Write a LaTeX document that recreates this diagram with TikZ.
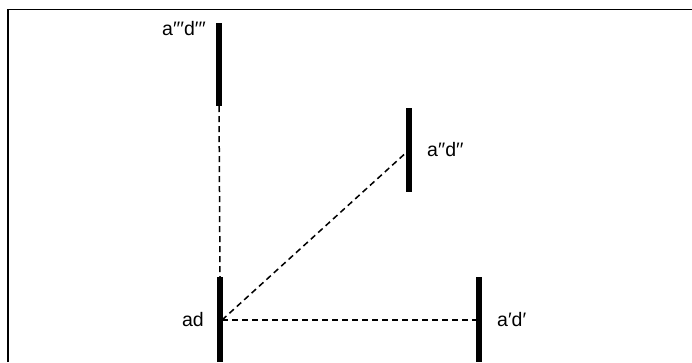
\documentclass[tikz,border=0pt]{standalone}
\usepackage{fontspec}
\setmainfont{Liberation Sans}
\begin{document}
\begin{tikzpicture}[x=1pt,y=-1pt,
  bar/.style={line width=5.5pt},
  link/.style={line width=1.5pt,dash pattern=on 6pt off 4pt},
  lbl/.style={font=\fontsize{19.5}{22}\selectfont,inner sep=0pt},
  frameline/.style={line width=1.6pt}]
\useasboundingbox (0,0) rectangle (692,362);
\draw[frameline] (8,362) -- (8,9.5) -- (692,9.5);
% bars
\coordinate (A3t) at (219,23); \coordinate (A3b) at (219,106);
\coordinate (A2t) at (409,108); \coordinate (A2b) at (409,192);
\coordinate (A0t) at (220,277); \coordinate (A0b) at (220,362);
\coordinate (A1t) at (479,277); \coordinate (A1b) at (479,362);
\draw[bar] (A3t) -- (A3b);
\draw[bar] (A2t) -- (A2b);
\draw[bar] (A0t) -- (A0b);
\draw[bar] (A1t) -- (A1b);
\coordinate (p3) at (219,106);
\coordinate (p2) at (409,150);
\coordinate (p0) at (222,320);
\coordinate (p0t) at (220,277);
\coordinate (p1) at (479,320);
\draw[link] (p3) -- (p0t);
\draw[link] (p0) -- (p2);
\draw[link] (p0) -- (p1);
% labels
\node[lbl,anchor=east] (L3) at (206,29) {a′′′d′′′};
\node[lbl,anchor=west] (L2) at (427,150) {a′′d′′};
\node[lbl,anchor=east] (L0) at (204,320) {ad};
\node[lbl,anchor=west] (L1) at (497,320) {a′d′};
\end{tikzpicture}
\end{document}
